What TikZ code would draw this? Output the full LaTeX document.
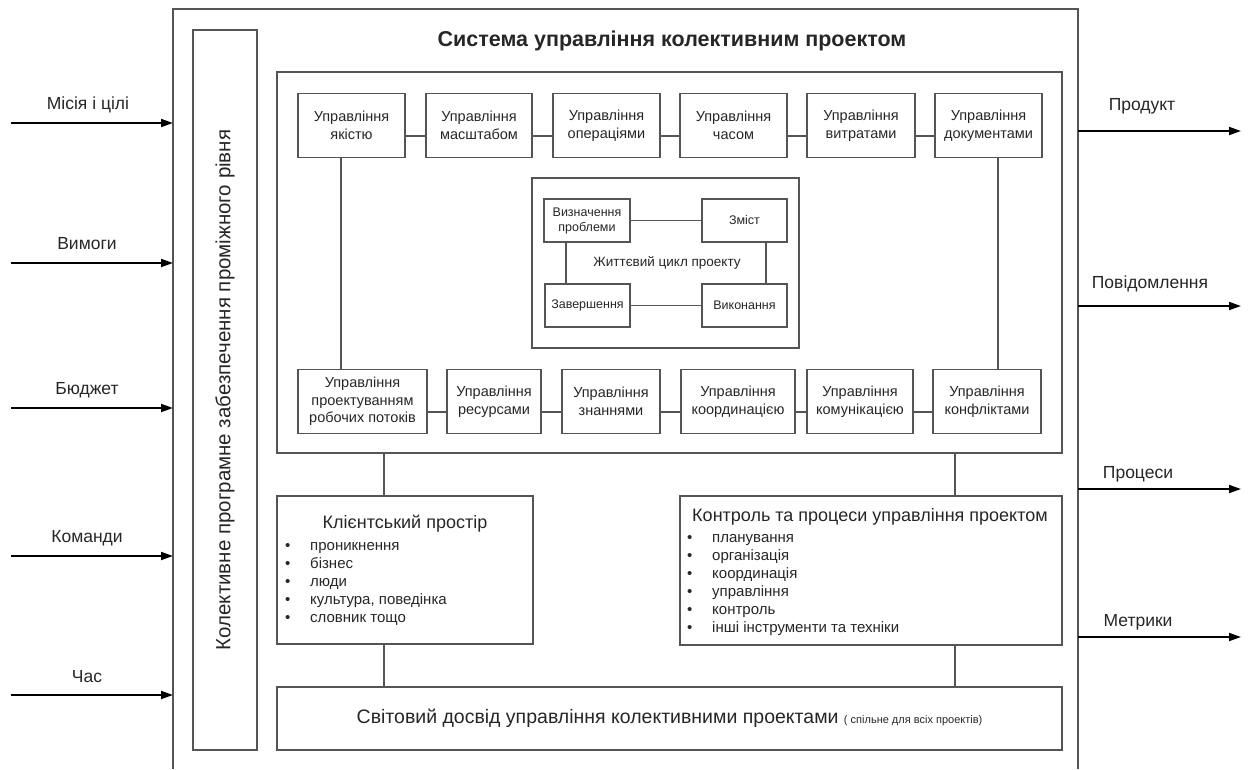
\documentclass[tikz,border=0pt]{standalone}
\usepackage{fontspec}
\setmainfont{Liberation Sans}
\usetikzlibrary{arrows.meta}
\definecolor{boxgray}{HTML}{555555}
\definecolor{txtgray}{HTML}{262626}
\tikzset{%
    blk/.style={%
        rectangle,
        draw=boxgray,
        line width=1.2pt,
        align=center,
        inner sep=1pt,
        text=txtgray
    },
    mgmt/.style={%
        blk,
        minimum height=64pt,
        font=\fontsize{14.5}{17.5}\selectfont
    },
    lcbox/.style={%
        blk,
        minimum height=43pt,
        font=\fontsize{12.5}{15}\selectfont
    },
    conn/.style={%
        draw=boxgray,
        line width=1.2pt
    },
    sysframe/.style={%
        draw=boxgray,
        line width=1.4pt
    },
    arr/.style={%
        -{Triangle[length=12pt,width=8pt]},
        line width=1.8pt
    },
    lbl/.style={%
        font=\fontsize{17.5}{20}\selectfont,
        text=txtgray
    },
    listtxt/.style={%
        align=left,
        inner sep=0pt,
        text=txtgray,
        font=\fontsize{15}{18}\selectfont
    }
}
\newcommand{\itm}[1]{\makebox[25pt][l]{•}#1}

\begin{document}
\begin{tikzpicture}[x=1pt,y=-1pt]
\useasboundingbox (0,0) rectangle (1251,769);

% outer frame of the system
\coordinate (sysNW) at (173,9);
\coordinate (sysNE) at (1078,9);
\coordinate (sysSW) at (173,769);
\coordinate (sysSE) at (1078,769);
\draw[sysframe] (sysSW) -- (sysNW) -- (sysNE) -- (sysSE);

\node[font=\bfseries\fontsize{21.5}{24}\selectfont, text=txtgray] (title) at (672,41) {Система управління колективним проектом};

\node[blk, minimum width=720pt, minimum height=64pt, rotate=90,
      font=\fontsize{20.5}{22}\selectfont] (mid) at (225,390) {Колективне програмне забезпечення проміжного рівня};

% management areas
\node[blk, minimum width=785pt, minimum height=381pt] (core) at (669.5,262.5) {};

\node[mgmt, minimum width=107pt] (qual) at (351.5,125.5) {Управління\\якістю};
\node[mgmt, minimum width=106pt] (scope) at (479,125.5) {Управління\\масштабом};
\node[mgmt, minimum width=107pt] (oper) at (606.5,125.5) {Управління\\операціями};
\node[mgmt, minimum width=107pt] (time) at (733.5,125.5) {Управління\\часом};
\node[mgmt, minimum width=108pt] (cost) at (861,125.5) {Управління\\витратами};
\node[mgmt, minimum width=107pt] (docs) at (988.5,125.5) {Управління\\документами};

\node[mgmt, minimum width=129pt] (flow) at (362.5,401.5) {Управління\\проектуванням\\робочих потоків};
\node[mgmt, minimum width=94pt] (res) at (494,401.5) {Управління\\ресурсами};
\node[mgmt, minimum width=98pt] (know) at (611,401.5) {Управління\\знаннями};
\node[mgmt, minimum width=114pt] (coord) at (738,401.5) {Управління\\координацією};
\node[mgmt, minimum width=106pt] (comm) at (860,401.5) {Управління\\комунікацією};
\node[mgmt, minimum width=108pt] (confl) at (987,401.5) {Управління\\конфліктами};

\draw[conn] ([yshift=-10.5pt]qual.east) -- ([yshift=-10.5pt]scope.west);
\draw[conn] ([yshift=-10.5pt]scope.east) -- ([yshift=-10.5pt]oper.west);
\draw[conn] ([yshift=-10.5pt]oper.east) -- ([yshift=-10.5pt]time.west);
\draw[conn] ([yshift=-10.5pt]time.east) -- ([yshift=-10.5pt]cost.west);
\draw[conn] ([yshift=-10.5pt]cost.east) -- ([yshift=-10.5pt]docs.west);
\draw[conn] ([yshift=-10.5pt]flow.east) -- ([yshift=-10.5pt]res.west);
\draw[conn] ([yshift=-10.5pt]res.east) -- ([yshift=-10.5pt]know.west);
\draw[conn] ([yshift=-10.5pt]know.east) -- ([yshift=-10.5pt]coord.west);
\draw[conn] ([yshift=-10.5pt]coord.east) -- ([yshift=-10.5pt]comm.west);
\draw[conn] ([yshift=-10.5pt]comm.east) -- ([yshift=-10.5pt]confl.west);
\draw[conn] ([xshift=-10.5pt]qual.south) -- ([xshift=-10.5pt]qual.south |- flow.north);
\draw[conn] ([xshift=9.5pt]docs.south) -- ([xshift=9.5pt]docs.south |- confl.north);

% project life cycle
\node[blk, minimum width=267pt, minimum height=170pt] (life) at (665.5,263) {};
\node[lcbox, minimum width=86pt] (defn) at (587,220.5) {Визначення\\проблеми};
\node[lcbox, minimum width=85pt] (cont) at (744.5,220.5) {Зміст};
\node[lcbox, minimum width=85pt] (fin) at (587.5,305.5) {Завершення};
\node[lcbox, minimum width=85pt] (exe) at (744.5,305.5) {Виконання};
\node[font=\fontsize{13.5}{16}\selectfont, text=txtgray] (lifelbl) at (667,263) {Життєвий цикл проекту};
\draw[conn] (defn) -- (cont);
\draw[conn] (fin) -- (exe);
\draw[conn] ([xshift=-21pt]defn.south) -- ([xshift=-21pt]defn.south |- fin.north);
\draw[conn] ([xshift=21.5pt]cont.south) -- ([xshift=21.5pt]cont.south |- exe.north);

% client space and control
\node[blk, minimum width=256pt, minimum height=148pt] (client) at (405,570) {};
\node[lbl, font=\fontsize{18}{20}\selectfont] (clienthd) at (405,524) {Клієнтський простір};
\node[listtxt, anchor=north west] (clientls) at (285,542) {\itm{проникнення}\\\itm{бізнес}\\\itm{люди}\\\itm{культура, поведінка}\\\itm{словник тощо}};

\node[blk, minimum width=382pt, minimum height=149pt] (ctrl) at (871,570.5) {};
\node[lbl, font=\fontsize{18}{20}\selectfont] (ctrlhd) at (870,517) {Контроль та процеси управління проектом};
\node[listtxt, anchor=north west] (ctrlls) at (687,534) {\itm{планування}\\\itm{організація}\\\itm{координація}\\\itm{управління}\\\itm{контроль}\\\itm{інші інструменти та техніки}};

\node[blk, minimum width=785pt, minimum height=63pt, font=\fontsize{19.5}{22}\selectfont] (world) at (669.5,718.5) {Світовий досвід управління колективними проектами {\fontsize{11}{13}\selectfont( спільне для всіх проектів)}};

\draw[conn] ([xshift=-21pt]client.north) -- ([xshift=-21pt]client.north |- core.south);
\draw[conn] ([xshift=-21pt]client.south) -- ([xshift=-21pt]client.south |- world.north);
\draw[conn] ([xshift=84pt]ctrl.north) -- ([xshift=84pt]ctrl.north |- core.south);
\draw[conn] ([xshift=84pt]ctrl.south) -- ([xshift=84pt]ctrl.south |- world.north);

% inputs
\coordinate (in1) at (11,123);
\coordinate (in2) at (11,263);
\coordinate (in3) at (11,408);
\coordinate (in4) at (11,556);
\coordinate (in5) at (11,695);
\draw[arr] (in1) -- (in1 -| sysNW);
\draw[arr] (in2) -- (in2 -| sysNW);
\draw[arr] (in3) -- (in3 -| sysNW);
\draw[arr] (in4) -- (in4 -| sysNW);
\draw[arr] (in5) -- (in5 -| sysNW);
\node[lbl] (in1lbl) at (88,105) {Місія і цілі};
\node[lbl] (in2lbl) at (87,244) {Вимоги};
\node[lbl] (in3lbl) at (87,390) {Бюджет};
\node[lbl] (in4lbl) at (87,538) {Команди};
\node[lbl] (in5lbl) at (87,677) {Час};

% outputs
\coordinate (out1) at (1241,131);
\coordinate (out2) at (1241,306);
\coordinate (out3) at (1241,489);
\coordinate (out4) at (1241,637);
\draw[arr] (out1 -| sysNE) -- (out1);
\draw[arr] (out2 -| sysNE) -- (out2);
\draw[arr] (out3 -| sysNE) -- (out3);
\draw[arr] (out4 -| sysNE) -- (out4);
\node[lbl] (out1lbl) at (1142,106) {Продукт};
\node[lbl] (out2lbl) at (1150,284) {Повідомлення};
\node[lbl] (out3lbl) at (1138,474) {Процеси};
\node[lbl] (out4lbl) at (1138,622) {Метрики};
\end{tikzpicture}
\end{document}
